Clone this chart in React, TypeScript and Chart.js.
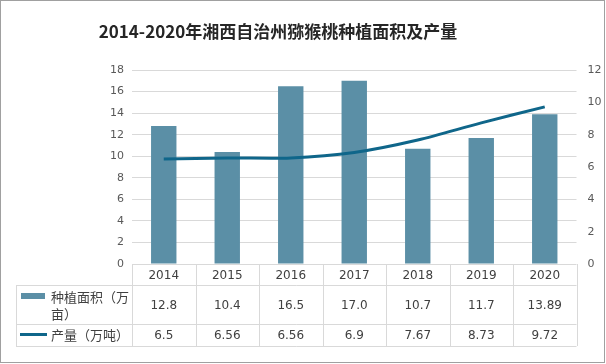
import React, { useEffect, useRef } from "react";
import { Chart, registerables } from "chart.js";

Chart.register(...registerables);

const TITLE = "2014-2020年湘西自治州猕猴桃种植面积及产量";
const YEARS = ["2014", "2015", "2016", "2017", "2018", "2019", "2020"];
const AREA_LABEL = "种植面积（万亩）";
const AREA_LABEL_LINES = ["种植面积（万", "亩）"];
const AREA = [12.8, 10.4, 16.5, 17.0, 10.7, 11.7, 13.89];
const AREA_TEXT = ["12.8", "10.4", "16.5", "17.0", "10.7", "11.7", "13.89"];
const OUTPUT_LABEL = "产量（万吨）";
const OUTPUT = [6.5, 6.56, 6.56, 6.9, 7.67, 8.73, 9.72];
const OUTPUT_TEXT = ["6.5", "6.56", "6.56", "6.9", "7.67", "8.73", "9.72"];

const BAR_COLOR = "#5B8FA6";
const LINE_COLOR = "#0F668A";
const GRID_COLOR = "#D9D9D9";
const TEXT_COLOR = "#404040";
const NUM_FONT = "12px 'DejaVu Sans', sans-serif";
const CJK_FONT = "13px 'Noto Sans CJK SC', sans-serif";

const tablePlugin = {
  id: "dataTable",
  afterDraw(chart: any) {
    const ctx = chart.ctx as CanvasRenderingContext2D;
    const x = chart.scales.x;
    const area = chart.chartArea;
    const n = YEARS.length;
    const colW = (area.right - area.left) / n;
    const left = area.left;
    const right = area.right;
    const tableLeft = 16;
    const y0 = area.bottom + 1;
    const y1 = 285;
    const y2 = 324;
    const y3 = 346;
    ctx.save();
    // title
    ctx.fillStyle = "#262626";
    ctx.font = "bold 17px 'Noto Sans CJK SC', sans-serif";
    ctx.textAlign = "center";
    ctx.textBaseline = "middle";
    ctx.fillText(TITLE, 278, 32);

    // grid lines
    ctx.strokeStyle = GRID_COLOR;
    ctx.lineWidth = 1;
    ctx.beginPath();
    const h = (yy: number, a: number, b: number) => {
      ctx.moveTo(a, Math.round(yy) + 0.5);
      ctx.lineTo(b, Math.round(yy) + 0.5);
    };
    const v = (xx: number, a: number, b: number) => {
      ctx.moveTo(Math.round(xx) + 0.5, a);
      ctx.lineTo(Math.round(xx) + 0.5, b);
    };
    h(y1, tableLeft, right);
    h(y2, tableLeft, right);
    h(y3, tableLeft, right);
    v(tableLeft, y1, y3);
    for (let i = 0; i <= n; i++) {
      v(left + i * colW, y0 - 1, y3);
    }
    ctx.stroke();

    // header years & values
    ctx.fillStyle = TEXT_COLOR;
    ctx.font = NUM_FONT;
    ctx.textAlign = "center";
    ctx.textBaseline = "middle";
    for (let i = 0; i < n; i++) {
      const cx = x.getPixelForValue(i);
      ctx.fillText(YEARS[i], cx, (y0 + y1) / 2 + 1);
      ctx.fillText(AREA_TEXT[i], cx, (y1 + y2) / 2 + 1);
      ctx.fillText(OUTPUT_TEXT[i], cx, (y2 + y3) / 2 + 1);
    }

    // legend keys
    ctx.fillStyle = BAR_COLOR;
    ctx.fillRect(21, 293, 24, 6);
    ctx.strokeStyle = LINE_COLOR;
    ctx.lineWidth = 3;
    ctx.beginPath();
    ctx.moveTo(20, 334.5);
    ctx.lineTo(47, 334.5);
    ctx.stroke();

    ctx.fillStyle = TEXT_COLOR;
    ctx.font = CJK_FONT;
    ctx.textAlign = "left";
    ctx.fillText(AREA_LABEL_LINES[0], 51, 297);
    ctx.fillText(AREA_LABEL_LINES[1], 51, 314);
    ctx.fillText(OUTPUT_LABEL, 51, 335);

    // outer border
    ctx.strokeStyle = "#A0A0A0";
    ctx.lineWidth = 1;
    ctx.strokeRect(0.5, 0.5, 604, 362);
    ctx.restore();
  },
};

export default function App() {
  const ref = useRef<HTMLCanvasElement | null>(null);
  useEffect(() => {
    document.body.style.margin = "0";
    const canvas = ref.current!;
    const chart = new Chart(canvas, {
      type: "bar",
      data: {
        labels: YEARS,
        datasets: [
          {
            type: "line",
            label: OUTPUT_LABEL,
            data: OUTPUT,
            yAxisID: "y1",
            borderColor: LINE_COLOR,
            backgroundColor: LINE_COLOR,
            borderWidth: 3,
            pointRadius: 0,
            tension: 0.3,
            order: 0,
          } as any,
          {
            type: "bar",
            label: AREA_LABEL,
            data: AREA,
            yAxisID: "y",
            backgroundColor: BAR_COLOR,
            barPercentage: 0.4,
            categoryPercentage: 1,
            order: 1,
          },
        ],
      },
      options: {
        responsive: false,
        animation: false,
        devicePixelRatio: 1,
        layout: { padding: { top: 70, bottom: 100, left: 0, right: 0 } },
        plugins: {
          legend: { display: false },
          title: { display: false },
          tooltip: { enabled: false },
        },
        scales: {
          x: {
            display: false,
            offset: true,
            grid: { display: false },
          },
          y: {
            position: "left",
            min: 0,
            max: 18,
            ticks: {
              stepSize: 2,
              color: "#595959",
              font: { family: "'DejaVu Sans', sans-serif", size: 11 },
              padding: 8,
            },
            grid: { color: GRID_COLOR, drawTicks: false },
            border: { display: false },
            afterFit: (s: any) => {
              s.width = 132;
            },
          },
          y1: {
            position: "right",
            min: 0,
            max: 12,
            ticks: {
              stepSize: 2,
              color: "#595959",
              font: { family: "'DejaVu Sans', sans-serif", size: 11 },
              padding: 11,
            },
            grid: { display: false, drawTicks: false },
            border: { display: false },
            afterFit: (s: any) => {
              s.width = 29.5;
            },
          },
        },
      },
      plugins: [tablePlugin],
    });
    return () => chart.destroy();
  }, []);
  return (
    <div style={{ position: "absolute", left: 0, top: 0, width: 606, height: 364, background: "#fff" }}>
      <canvas ref={ref} width={606} height={364} style={{ display: "block" }} />
    </div>
  );
}
